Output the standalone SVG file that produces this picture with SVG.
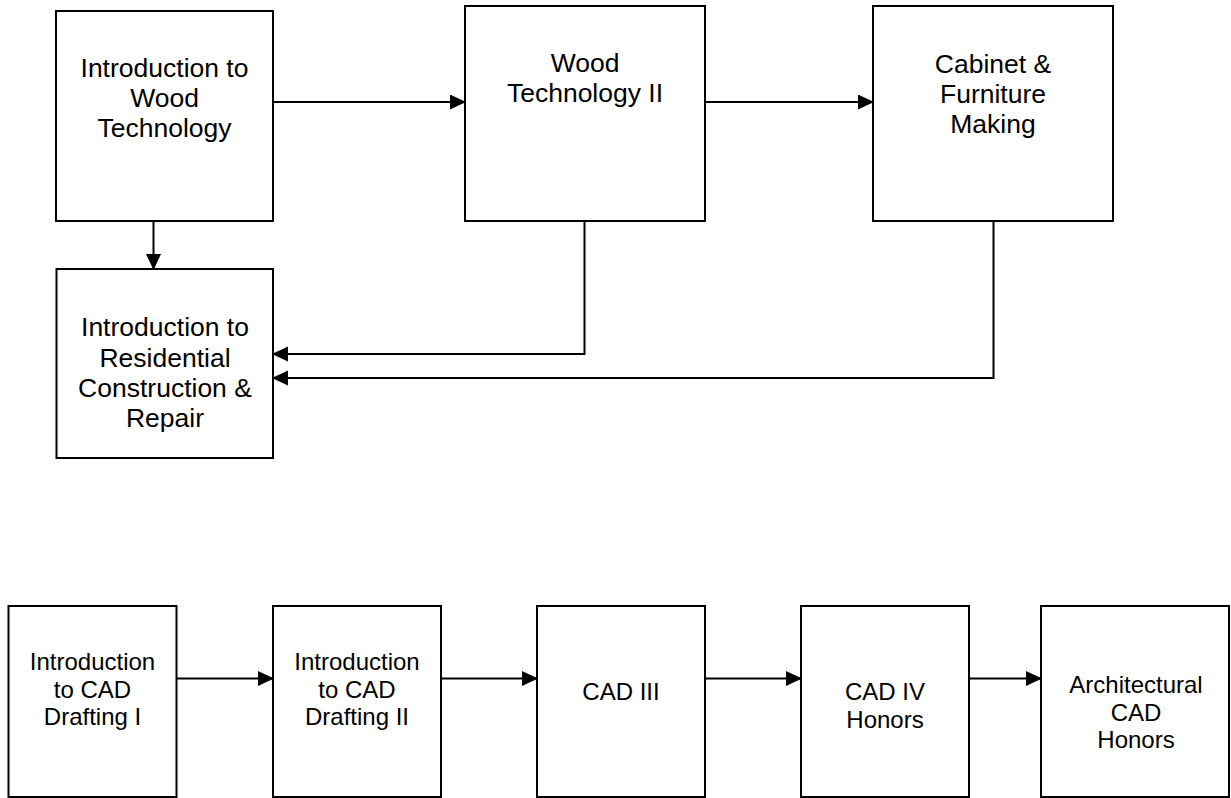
<svg xmlns="http://www.w3.org/2000/svg" width="1231" height="798" viewBox="0 0 1231 798">
<style>
.box{fill:#fff;stroke:#000;stroke-width:2}
.t{font-family:"Liberation Sans",Arial,sans-serif;font-size:26.5px;fill:#000;text-anchor:middle}
.s{font-family:"Liberation Sans",Arial,sans-serif;font-size:24px;fill:#000;text-anchor:middle}
.c{fill:none;stroke:#000;stroke-width:2;marker-end:url(#ah)}
</style>
<defs>
<marker id="ah" markerUnits="userSpaceOnUse" markerWidth="17" markerHeight="16" refX="15" refY="7.5" orient="auto">
<path d="M0,0 L16,7.5 L0,15 z" fill="#000"/>
</marker>
</defs>
<rect width="1231" height="798" fill="#fff"/>
<g id="n1"><rect class="box" x="56" y="11" width="217" height="210"/>
<text class="t" x="164.5" y="77">Introduction to</text><text class="t" x="164.5" y="107">Wood</text><text class="t" x="164.5" y="137">Technology</text></g>
<g id="n2"><rect class="box" x="465" y="6" width="240" height="215"/>
<text class="t" x="585" y="72">Wood</text><text class="t" x="585" y="102">Technology II</text></g>
<g id="n3"><rect class="box" x="873" y="6" width="240" height="215"/>
<text class="t" x="993" y="72.5">Cabinet &amp;</text><text class="t" x="993" y="102.5">Furniture</text><text class="t" x="993" y="132.5">Making</text></g>
<g id="n4"><rect class="box" x="56.5" y="269" width="216.5" height="189"/>
<text class="t" x="165" y="336">Introduction to</text><text class="t" x="165" y="366.5">Residential</text><text class="t" x="165" y="396.5">Construction &amp;</text><text class="t" x="165" y="426.5">Repair</text></g>
<g id="b1"><rect class="box" x="8.5" y="606" width="168" height="191"/>
<text class="s" x="92.5" y="670">Introduction</text><text class="s" x="92.5" y="697.5">to CAD</text><text class="s" x="92.5" y="725">Drafting I</text></g>
<g id="b2"><rect class="box" x="273" y="606" width="168" height="191"/>
<text class="s" x="357" y="670">Introduction</text><text class="s" x="357" y="697.5">to CAD</text><text class="s" x="357" y="725">Drafting II</text></g>
<g id="b3"><rect class="box" x="537" y="606" width="168" height="191"/>
<text class="s" x="621" y="700">CAD III</text></g>
<g id="b4"><rect class="box" x="801" y="606" width="168" height="191"/>
<text class="s" x="885" y="700">CAD IV</text><text class="s" x="885" y="727.5">Honors</text></g>
<g id="b5"><rect class="box" x="1041" y="606" width="188" height="191"/>
<text class="s" x="1136" y="693">Architectural</text><text class="s" x="1136" y="720.5">CAD</text><text class="s" x="1136" y="748">Honors</text></g>
<g id="connectors">
<path class="c" d="M273,102 H465"/>
<path class="c" d="M705,102 H873"/>
<path class="c" d="M153.5,221 V269"/>
<path class="c" d="M584.5,221 V354 H273"/>
<path class="c" d="M993.5,221 V378 H273"/>
<path class="c" d="M176.5,678.5 H273"/>
<path class="c" d="M441,678.5 H537"/>
<path class="c" d="M705,678.5 H801"/>
<path class="c" d="M969,678.5 H1041"/>
</g>
</svg>
